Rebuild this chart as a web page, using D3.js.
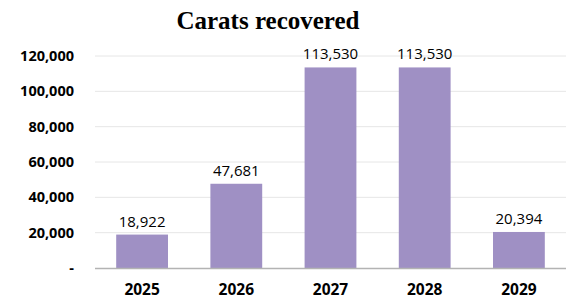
<!DOCTYPE html>
<html>
<head>
<meta charset="utf-8">
<script src="https://cdn.jsdelivr.net/npm/d3@7"></script>
<style>
  html, body { margin: 0; padding: 0; background: #fff; }
  svg { display: block; }
</style>
</head>
<body>
<div id="chart-container"></div>
<script>
const width = 566;
const height = 301;

// data
const years = ["2025", "2026", "2027", "2028", "2029"];
const carats = [18922, 47681, 113530, 113530, 20394];
const yTicks = [0, 20000, 40000, 60000, 80000, 100000, 120000];

const svg = d3.select("div#chart-container").append("svg")
    .attr("width", width)
    .attr("height", height);

const data = years.map((y, i) => ({ year: y, value: carats[i] }));

const xScale = d3.scaleBand()
    .domain(years)
    .range([95, 566])
    .paddingInner(0.45)
    .paddingOuter(0.225);

const yScale = d3.scaleLinear()
    .domain([0, 120000])
    .range([268, 56]);

const fmt = d3.format(",");

// title
svg.append("text")
    .attr("x", 268)
    .attr("y", 29)
    .attr("text-anchor", "middle")
    .style("font-family", "'Liberation Serif', 'Times New Roman', serif")
    .style("font-weight", "bold")
    .style("font-size", "25px")
    .style("fill", "#000")
    .text("Carats recovered");

// gridlines
svg.append("g")
    .selectAll("line")
    .data(yTicks.filter(d => d > 0))
    .enter()
    .append("line")
    .attr("x1", 95)
    .attr("x2", 566)
    .attr("y1", d => yScale(d))
    .attr("y2", d => yScale(d))
    .style("stroke", "#e6e6e6")
    .style("stroke-width", 1);

// y axis labels
const yaxis = d3.axisLeft(yScale)
    .tickValues(yTicks)
    .tickSize(0)
    .tickPadding(0)
    .tickFormat(d => d === 0 ? "-" : fmt(d));

svg.append("g")
    .attr("class", "axis")
    .attr("transform", "translate(74,0)")
    .call(yaxis)
    .call(g => g.select(".domain").remove())
    .selectAll("text")
    .style("font-family", "'Open Sans', 'DejaVu Sans', sans-serif")
    .style("font-weight", "bold")
    .style("font-size", "14.5px")
    .style("fill", "#000");

// bars
svg.append("g")
    .selectAll("rect")
    .data(data)
    .enter()
    .append("rect")
    .attr("x", d => xScale(d.year))
    .attr("y", d => yScale(d.value))
    .attr("width", xScale.bandwidth())
    .attr("height", d => yScale(0) - yScale(d.value))
    .style("fill", "#9f90c4");

// baseline
svg.append("line")
    .attr("x1", 95)
    .attr("x2", 566)
    .attr("y1", yScale(0) + 0.5)
    .attr("y2", yScale(0) + 0.5)
    .style("stroke", "#b3b3b3")
    .style("stroke-width", 1.5);

// value labels
svg.append("g")
    .selectAll("text")
    .data(data)
    .enter()
    .append("text")
    .attr("x", d => xScale(d.year) + xScale.bandwidth() / 2)
    .attr("y", d => yScale(d.value) - 8)
    .attr("text-anchor", "middle")
    .style("font-family", "'Open Sans', 'DejaVu Sans', sans-serif")
    .style("font-size", "15px")
    .style("fill", "#000")
    .text(d => fmt(d.value));

// x axis labels
const xaxis = d3.axisBottom(xScale).tickSize(0).tickPadding(0);

svg.append("g")
    .attr("class", "axis")
    .attr("transform", "translate(0,284)")
    .call(xaxis)
    .call(g => g.select(".domain").remove())
    .selectAll("text")
    .style("font-family", "'Open Sans', 'DejaVu Sans', sans-serif")
    .style("font-weight", "bold")
    .style("font-size", "15.5px")
    .style("fill", "#000");
</script>
</body>
</html>
